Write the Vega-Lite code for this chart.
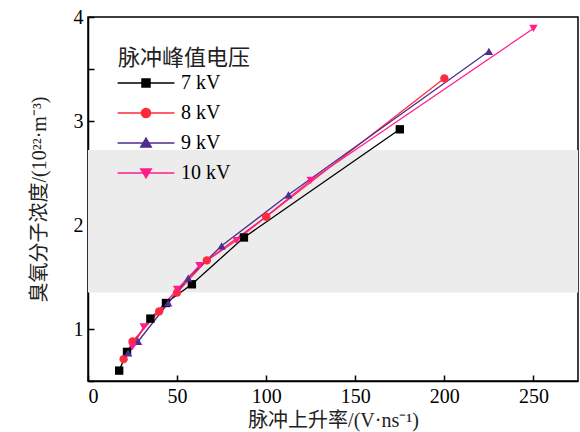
{
  "$schema": "https://vega.github.io/schema/vega-lite/v6.json",
  "width": 490,
  "height": 364,
  "autosize": {"type": "none"},
  "padding": {"left": 88, "top": 17, "right": 2, "bottom": 51},
  "background": "white",
  "config": {
    "view": {"stroke": "black", "strokeWidth": 1.5},
    "axis": {
      "grid": false,
      "domainColor": "black",
      "domainWidth": 1.5,
      "tickColor": "black",
      "tickWidth": 1.5,
      "tickSize": -6,
      "labelPadding": 11,
      "labelFont": "Liberation Serif",
      "labelFontSize": 20,
      "labelColor": "black",
      "titleFont": "Liberation Serif, Noto Sans CJK SC",
      "titleFontSize": 20,
      "titleFontWeight": "normal",
      "titleColor": "#222"
    },
    "legend": {
      "padding": 0
    }
  },
  "layer": [
    {
      "data": {"values": [{"lo": 1.35, "hi": 2.72}]},
      "mark": {"type": "rect", "color": "#ececec"},
      "encoding": {
        "y": {"field": "lo", "type": "quantitative", "scale": {"domain": [0.5, 4]}},
        "y2": {"field": "hi"}
      }
    },
    {
      "data": {"name": "pts"},
      "mark": {"type": "line", "strokeWidth": 1.3},
      "encoding": {
        "x": {"field": "rate", "type": "quantitative",
          "scale": {"domain": [0, 275], "nice": false, "zero": false},
          "axis": {"values": [0, 50, 100, 150, 200, 250], "title": "脉冲上升率/(V·ns⁻¹)", "titlePadding": 4}},
        "y": {"field": "c", "type": "quantitative",
          "scale": {"domain": [0.5, 4], "nice": false, "zero": false},
          "axis": {"values": [0.5, 1, 1.5, 2, 2.5, 3, 3.5, 4],
            "labelExpr": "datum.value % 1 == 0 ? format(datum.value, 'd') : ''",
            "title": "臭氧分子浓度/(10²²·m⁻³)", "titlePadding": 24}},
        "color": {"field": "v", "type": "nominal",
          "scale": {"domain": ["7 kV", "8 kV", "9 kV", "10 kV"], "range": ["#000000", "#ff2a3c", "#4f2c8e", "#ff1e8c"]},
          "legend": {
            "title": "脉冲峰值电压",
            "orient": "none",
            "legendX": 30,
            "legendY": 31,
            "titleFont": "Noto Sans CJK SC",
            "titleFontSize": 22,
            "titleFontWeight": "normal",
            "titleColor": "#222",
            "titlePadding": 3,
            "labelFont": "Liberation Serif",
            "labelFontSize": 20,
            "labelColor": "black",
            "symbolSize": 64,
            "symbolOffset": 18,
            "labelOffset": 25,
            "rowPadding": 10,
            "encode": {
              "symbols": {
                "update": {
                  "shape": {"signal": "datum.value === '7 kV' ? 'M-7.1,0H7.1M-1,-1H1V1H-1Z' : datum.value === '8 kV' ? 'M-7.1,0H7.1M-1.15,0A1.15,1.15,0,1,0,1.15,0A1.15,1.15,0,1,0,-1.15,0Z' : datum.value === '9 kV' ? 'M-7.1,0H7.1M0,-1.2L1.3,1L-1.3,1Z' : 'M-7.1,0H7.1M0,1.2L1.3,-1L-1.3,-1Z'"},
                  "fill": {"signal": "scale('color', datum.value)"},
                  "stroke": {"signal": "scale('color', datum.value)"},
                  "strokeWidth": {"value": 1.5},
                  "opacity": {"value": 1}
                }
              }
            }
          }},
        "detail": {"field": "v"}
      }
    },
    {
      "data": {"name": "pts"},
      "mark": {"type": "point", "filled": true, "size": 70, "opacity": 1},
      "encoding": {
        "x": {"field": "rate", "type": "quantitative"},
        "y": {"field": "c", "type": "quantitative"},
        "color": {"field": "v", "type": "nominal"},
        "shape": {"field": "v", "type": "nominal",
          "scale": {"range": ["triangle-down", "square", "circle", "triangle-up"]},
          "legend": null}
      }
    }
  ],
  "data": {"name": "pts", "values": [
    {"v": "7 kV", "rate": 17.5, "c": 0.60},
    {"v": "7 kV", "rate": 21.9, "c": 0.78},
    {"v": "7 kV", "rate": 35, "c": 1.10},
    {"v": "7 kV", "rate": 43.75, "c": 1.25},
    {"v": "7 kV", "rate": 58.3, "c": 1.43},
    {"v": "7 kV", "rate": 87.5, "c": 1.88},
    {"v": "7 kV", "rate": 175, "c": 2.92},
    {"v": "8 kV", "rate": 20, "c": 0.71},
    {"v": "8 kV", "rate": 25, "c": 0.88},
    {"v": "8 kV", "rate": 40, "c": 1.17},
    {"v": "8 kV", "rate": 50, "c": 1.35},
    {"v": "8 kV", "rate": 66.7, "c": 1.66},
    {"v": "8 kV", "rate": 100, "c": 2.08},
    {"v": "8 kV", "rate": 200, "c": 3.41},
    {"v": "9 kV", "rate": 22.5, "c": 0.77},
    {"v": "9 kV", "rate": 28.1, "c": 0.88},
    {"v": "9 kV", "rate": 45, "c": 1.25},
    {"v": "9 kV", "rate": 56.25, "c": 1.49},
    {"v": "9 kV", "rate": 75, "c": 1.80},
    {"v": "9 kV", "rate": 112.5, "c": 2.29},
    {"v": "9 kV", "rate": 225, "c": 3.67},
    {"v": "10 kV", "rate": 25, "c": 0.83},
    {"v": "10 kV", "rate": 31.25, "c": 1.02},
    {"v": "10 kV", "rate": 50, "c": 1.38},
    {"v": "10 kV", "rate": 62.5, "c": 1.61},
    {"v": "10 kV", "rate": 83.3, "c": 1.85},
    {"v": "10 kV", "rate": 125, "c": 2.43},
    {"v": "10 kV", "rate": 250, "c": 3.89}
  ]}
}
